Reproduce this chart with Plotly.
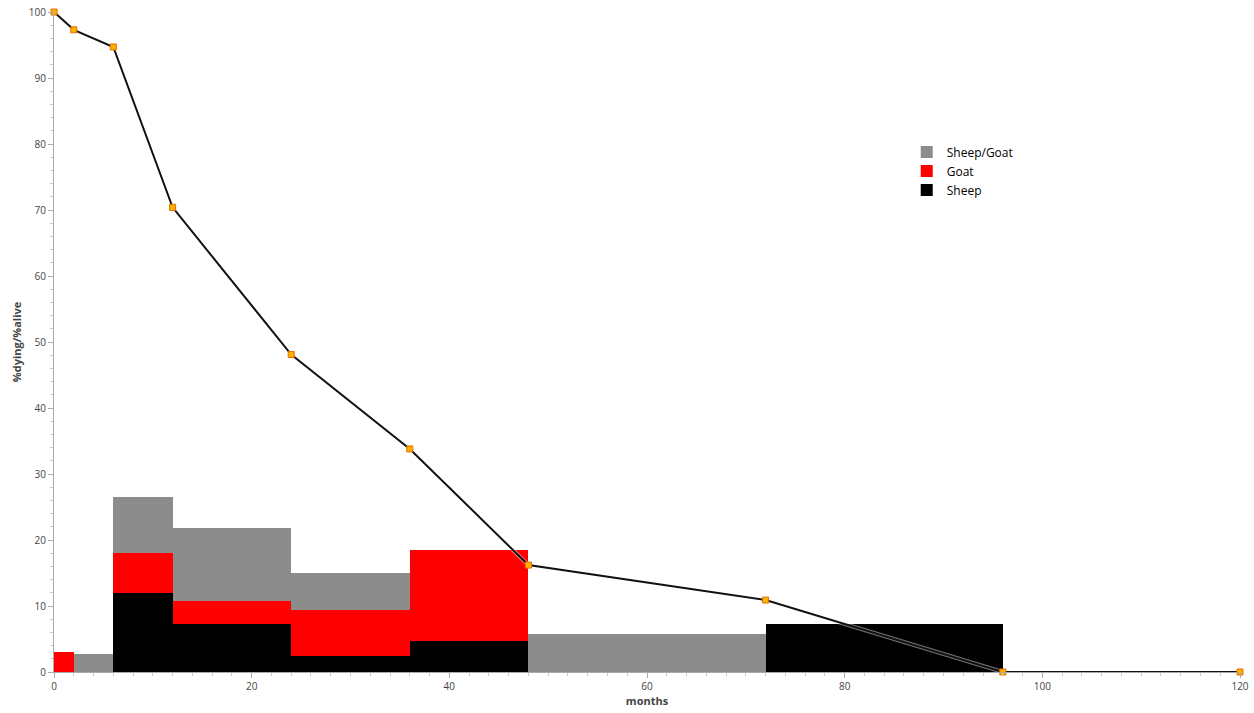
import plotly.graph_objects as go

# Age bins (months)
bin_start = [0, 2, 6, 12, 24, 36, 48, 72]
bin_end = [2, 6, 12, 24, 36, 48, 72, 96]

# % dying per bin, by category (stacked: Sheep bottom, Goat, Sheep/Goat top)
sheep = [0, 0, 11.9, 7.3, 2.4, 4.7, 0, 7.3]
goat = [3.0, 0, 6.1, 3.5, 7.0, 13.8, 0, 0]
sheep_goat = [0, 2.7, 8.5, 11.0, 5.6, 0, 5.8, 0]

# % alive survivorship curve
alive_months = [0, 2, 6, 12, 24, 36, 48, 72, 96, 120]
alive_pct = [100, 97.3, 94.7, 70.4, 48.1, 33.8, 16.2, 10.9, 0, 0]

mid = [(a + b) / 2 for a, b in zip(bin_start, bin_end)]
width = [b - a for a, b in zip(bin_start, bin_end)]

fig = go.Figure()
for name, vals, col in [("Sheep", sheep, "#000000"),
                        ("Goat", goat, "#ff0000"),
                        ("Sheep/Goat", sheep_goat, "#8c8c8c")]:
    fig.add_trace(go.Bar(x=mid, y=vals, width=width, name=name,
                         marker=dict(color=col, line=dict(width=0))))

# faint halo under the survivorship line
fig.add_trace(go.Scatter(x=alive_months, y=alive_pct, mode="lines",
                         line=dict(color="rgba(255,255,255,0.45)", width=4),
                         showlegend=False, hoverinfo="skip", cliponaxis=False))
fig.add_trace(go.Scatter(x=alive_months, y=alive_pct, mode="lines+markers",
                         line=dict(color="#111111", width=2),
                         marker=dict(symbol="square", size=6, color="#ffb000",
                                     line=dict(color="#e07000", width=1)),
                         showlegend=False, cliponaxis=False))

fig.update_layout(
    width=1254, height=713,
    barmode="stack", bargap=0,
    plot_bgcolor="white", paper_bgcolor="white",
    margin=dict(l=54, r=14, t=12, b=41),
    font=dict(family="Open Sans, Noto Sans, sans-serif", size=10, color="#444444"),
    legend=dict(x=0.719, y=0.81, xanchor="left", yanchor="top",
                traceorder="reversed", bgcolor="rgba(0,0,0,0)",
                font=dict(size=12, color="#000000"), itemsizing="constant"),
)
fig.update_xaxes(range=[0, 120], dtick=20, showgrid=False, zeroline=False,
                 automargin=False,
                 showline=True, linecolor="#aaaaaa", linewidth=1,
                 ticks="outside", ticklen=5, tickcolor="#aaaaaa",
                 minor=dict(dtick=2, ticks="outside", ticklen=3, tickcolor="#cccccc"),
                 title=dict(text="<b>months</b>", font=dict(size=11, color="#444444"), standoff=5))
fig.update_yaxes(range=[0, 100], dtick=10, showgrid=False, zeroline=False,
                 automargin=False,
                 showline=True, linecolor="#aaaaaa", linewidth=1,
                 ticks="outside", ticklen=5, tickcolor="#aaaaaa",
                 minor=dict(dtick=2, ticks="outside", ticklen=3, tickcolor="#cccccc"),
                 title=dict(text="<b>%dying/%alive</b>", font=dict(size=11, color="#444444"), standoff=4))

fig.write_html("out.html", config={"displayModeBar": False},
               post_script="document.body.style.margin='0';")
